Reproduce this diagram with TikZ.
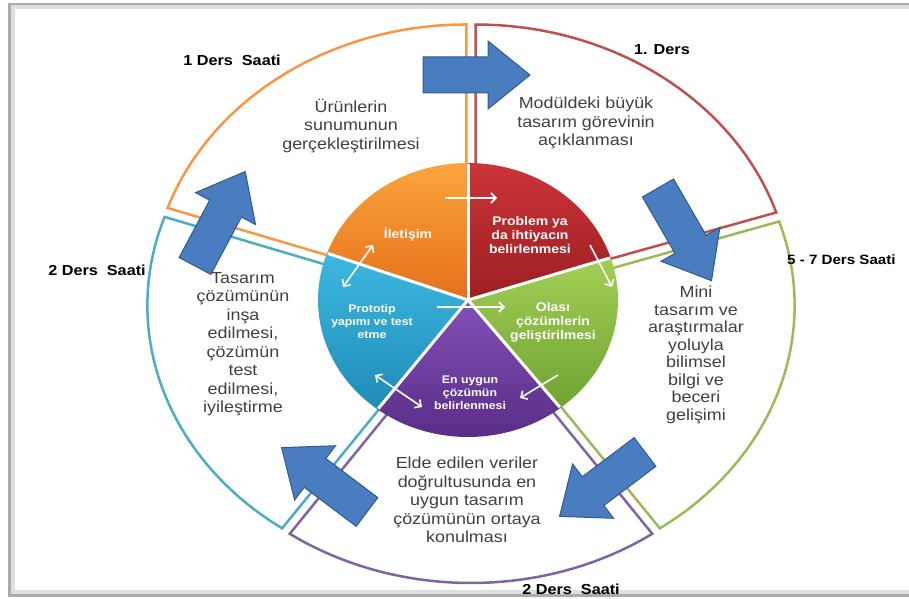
\documentclass[tikz,border=0pt]{standalone}
\usepackage{fontspec}
\setmainfont{Liberation Sans}[FakeStretch=1.12]
\usetikzlibrary{arrows.meta}

\definecolor{ringorange}{HTML}{F79646}
\definecolor{ringred}{HTML}{C0504D}
\definecolor{ringgreen}{HTML}{9BBB59}
\definecolor{ringpurple}{HTML}{8064A2}
\definecolor{ringblue}{HTML}{4BACC6}
\definecolor{orangetop}{HTML}{FBA43C}
\definecolor{orangebot}{HTML}{E5701A}
\definecolor{redtop}{HTML}{CB3438}
\definecolor{redbot}{HTML}{9C1E22}
\definecolor{greentop}{HTML}{A2CF55}
\definecolor{greenbot}{HTML}{70A333}
\definecolor{purpletop}{HTML}{8350B8}
\definecolor{purplebot}{HTML}{552B83}
\definecolor{bluetop}{HTML}{3DB8E0}
\definecolor{bluebot}{HTML}{1F8CB6}
\definecolor{arrowblue}{HTML}{4A7DBF}
\definecolor{arrowedge}{HTML}{2F5A8E}
\definecolor{ringgray}{HTML}{404040}

\tikzset{
  ring/.style={line width=2.5},
  ringtext/.style={align=center, text=ringgray, font=\fontsize{16}{18.5}\selectfont},
  hours/.style={font=\bfseries\fontsize{14.5}{16}\selectfont},
  pietext/.style={align=center, text=white, font=\bfseries\fontsize{12.5}{14}\selectfont},
  smallpie/.style={pietext, font=\bfseries\fontsize{11}{13}\selectfont},
  blockarrow/.style={fill=arrowblue, draw=arrowedge, line width=1},
  whitearrow/.style={white, line width=1.6, -{Straight Barb[length=5pt,width=10pt]}},
  whitedouble/.style={white, line width=1.6, {Straight Barb[length=5pt,width=10pt]}-{Straight Barb[length=5pt,width=10pt]}}
}

\begin{document}
\begin{tikzpicture}[x=1pt,y=1pt]
        \useasboundingbox (0,0) rectangle (909,598);

        % frame
        \draw[gray!25, line width=4] (915,591) -- (13,591) -- (13,6) -- (915,6);
        \draw[gray!65, line width=2.5] (915,594) -- (9.5,594) -- (9.5,2.5) -- (915,2.5);

        % outer ring, one wedge per step, pushed out a little
        \foreach \c/\s/\e in {ringorange/90/161, ringred/18/90, ringgreen/-55/18, ringpurple/-125/-55, ringblue/161/235}{
                \draw[ring, \c, shift={({(\s+\e)/2}:8)}] (471,295) -- ++(\s:316 and 272)
                        arc[start angle=\s, end angle=\e, x radius=316, y radius=272] -- cycle;
        }

        % inner pie
        \coordinate (pie) at (468,298);
        \foreach \t/\b/\s/\e in {orangetop/orangebot/90/160, redtop/redbot/18/90, greentop/greenbot/-52/18, purpletop/purplebot/-127/-52, bluetop/bluebot/160/233}{
                \shade[top color=\t, bottom color=\b] (pie) -- ++(\s:150 and 137)
                        arc[start angle=\s, end angle=\e, x radius=150, y radius=137] -- cycle;
        }
        \foreach \a in {90,160,18,-52,-127}
                \draw[white, line width=3] (pie) -- ++(\a:149 and 136);

        % white arrows inside the pie
        \coordinate (ils) at (445,400);  \coordinate (ile) at (497,400);
        \coordinate (prs) at (590,353);  \coordinate (pre) at (612,311);
        \coordinate (prots) at (437,291); \coordinate (prote) at (505,291);
        \coordinate (ols) at (558,223);  \coordinate (ole) at (520,200);
        \coordinate (ena) at (375,223);  \coordinate (enb) at (422,191);
        \coordinate (ila) at (373,353);  \coordinate (ilb) at (343,311);
        \draw[whitearrow] (ils) -- (ile);
        \draw[whitearrow] (prs) -- (pre);
        \draw[whitearrow] (prots) -- (prote);
        \draw[whitearrow] (ols) -- (ole);
        \draw[whitedouble] (ena) -- (enb);
        \draw[whitedouble] (ila) -- (ilb);

        % block arrows between the steps
        \foreach \x/\y/\a in {423/523/0, 658/410/-60, 645/146/217, 367/86/143, 195/332/62}{
                \draw[blockarrow, shift={(\x,\y)}, rotate=\a] (0,-18) -- (65,-18) -- (65,-34)
                        -- (107,0) -- (65,34) -- (65,18) -- (0,18) -- cycle;
        }

        % pie labels
        \node[pietext] (iletisim) at (408,364) {İletişim};
        \node[pietext] (problem) at (530,363) {Problem ya\\da ihtiyacın\\belirlenmesi};
        \node[pietext] (olasi) at (553,276) {Olası\\çözümlerin\\geliştirilmesi};
        \node[smallpie] (prototip) at (372,276) {Prototip\\yapımı ve test\\etme};
        \node[smallpie] (enuygun) at (470,205) {En uygun\\çözümün\\belirlenmesi};

        % ring texts
        \node[ringtext] (urunler) at (351,472) {Ürünlerin\\sunumunun\\gerçekleştirilmesi};
        \node[ringtext] (modul) at (586,475) {Modüldeki büyük\\tasarım görevinin\\açıklanması};
        \node[ringtext, font=\fontsize{16}{17.5}\selectfont] (mini) at (696,243) {Mini\\tasarım ve\\araştırmalar\\yoluyla\\bilimsel\\bilgi ve\\beceri\\gelişimi};
        \node[ringtext] (elde) at (467,98) {Elde edilen veriler\\doğrultusunda en\\uygun tasarım\\çözümünün ortaya\\konulması};
        \node[ringtext] (insa) at (243,254) {Tasarım\\çözümünün\\inşa\\edilmesi,\\çözümün\\test\\edilmesi,\\iyileştirme};

        % lesson hours
        \node[hours] (saatust) at (232,538) {1 Ders~ Saati};
        \node[hours] (dersbir) at (662,548) {1. Ders};
        \node[hours, anchor=west, inner sep=1pt, font=\bfseries\fontsize{13.5}{15}\selectfont] (saatsag) at (786,338) {5 - 7 Ders Saati};
        \node[hours] (saatsol) at (97,328) {2 Ders~ Saati};
        \node[hours] (saatalt) at (571,9) {2 Ders~ Saati};
\end{tikzpicture}
\end{document}
